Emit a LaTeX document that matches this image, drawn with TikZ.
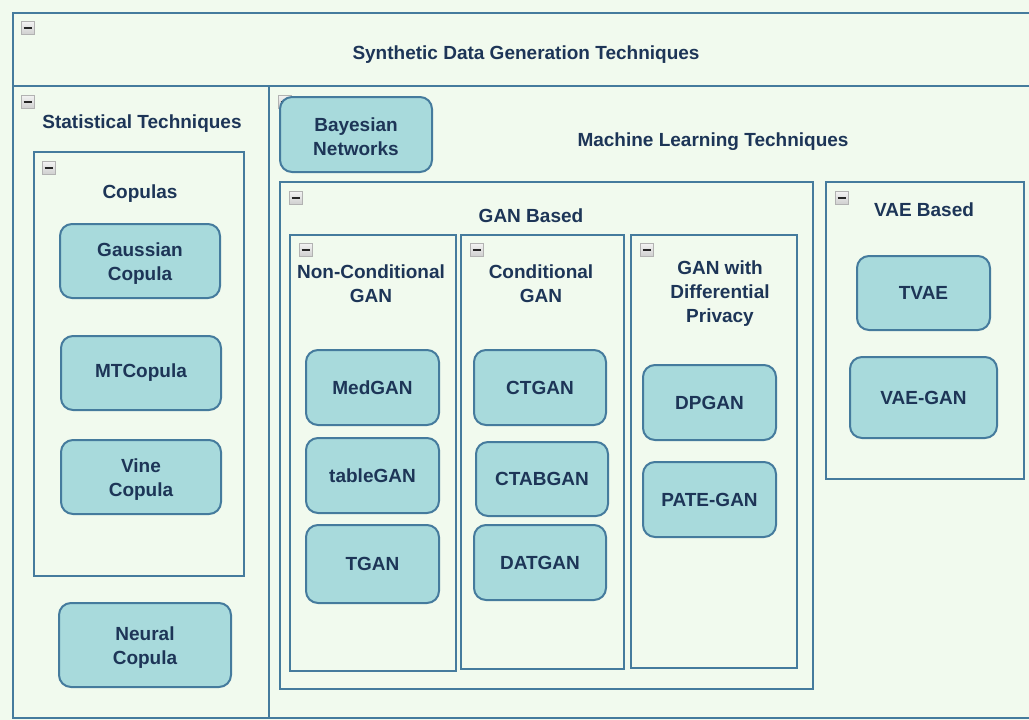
\documentclass[tikz,border=0pt]{standalone}
\usepackage{fontspec}
\setmainfont{Liberation Sans}
\usetikzlibrary{fit}
\definecolor{bgc}{HTML}{F1FAEE}
\definecolor{strokec}{HTML}{457B9D}
\definecolor{fillc}{HTML}{A8DADC}
\definecolor{fontc}{HTML}{1D3557}
\tikzset{
  every node/.style={font=\fontsize{19}{24}\selectfont\bfseries, text=fontc, align=center},
  container/.style={draw=strokec, line width=2pt, fill=bgc, inner sep=0pt},
  item/.style={draw=strokec, line width=2pt, fill=fillc, rounded corners=12pt, inner sep=0pt},
  title/.style={inner sep=0pt},
  icon/.style={minimum size=13pt, inner sep=0pt, draw=gray!60, line width=1pt,
    top color=gray!10, bottom color=gray!38,
    path picture={\draw[line width=2pt, black!85]
      ([xshift=-4.3pt]path picture bounding box.center) -- ([xshift=4.3pt]path picture bounding box.center);}}
}
% single-line item
\newcommand{\itembox}[6]{%
  \node[item, fit={(#2,#3)(#4,#5)}] (#1) {};
  \node[title] (#1-t) at (#1.center) {#6};
}
% two-line item
\newcommand{\itemboxtwo}[6]{%
  \node[item, fit={(#2,#3)(#4,#5)}] (#1) {};
  \node[title] (#1-t) at ([yshift=-2.5pt]#1.center) {#6};
}
\begin{document}
\begin{tikzpicture}[x=1pt, y=-1pt]
\fill[bgc] (0,0) rectangle (1029,720);
\useasboundingbox (0,0) rectangle (1029,720);
% outer containers
\node[container, fit={(13,13)(1040,86)}] (header) {};
\node[container, fit={(13,86)(269,718)}] (stat) {};
\node[container, fit={(269,86)(1040,718)}] (ml) {};
\node[icon] (iheader) at (28,28) {};
\node[icon] (istat) at (28,102) {};
\node[icon] (iml) at (285,102) {};
\node[title] (theader) at (526,54.5) {Synthetic Data Generation Techniques};
\node[title] (tstat) at (142,123.5) {Statistical Techniques};
\node[title] (tml) at (713,141.5) {Machine Learning Techniques};
% copulas
\node[container, fit={(34,152)(244,576)}] (copulas) {};
\node[icon] (icop) at (49,168) {};
\node[title] (tcop) at (140,193.5) {Copulas};
\itemboxtwo{gauss}{60}{224}{220}{298}{Gaussian\\Copula}
\itembox{mtc}{61}{336}{221}{410}{MTCopula}
\itemboxtwo{vine}{61}{440}{221}{514}{Vine\\Copula}
\itemboxtwo{neural}{59}{603}{231}{687}{Neural\\Copula}
% bayesian
\itemboxtwo{bayes}{280}{97}{432}{172}{Bayesian\\Networks}
% GAN based
\node[container, fit={(280,182)(813,689)}] (gan) {};
\node[icon] (igan) at (296,198) {};
\node[title] (tgan) at (531,216) {GAN Based};
\node[container, fit={(290,235)(456,671)}] (noncond) {};
\node[icon] (inon) at (306,250) {};
\node[title] (tnon) at (371,284) {Non-Conditional\\GAN};
\node[container, fit={(461,235)(624,669)}] (cond) {};
\node[icon] (icond) at (477,250) {};
\node[title] (tcond) at (541,284) {Conditional\\GAN};
\node[container, fit={(631,235)(797,668)}] (dp) {};
\node[icon] (idp) at (647,250) {};
\node[title] (tdp) at (720,294) {GAN with\\Differential\\Privacy};
\itembox{medgan}{306}{350}{439}{425}{MedGAN}
\itembox{tablegan}{306}{438}{439}{513}{tableGAN}
\itembox{tgan2}{306}{525}{439}{603}{TGAN}
\itembox{ctgan}{474}{350}{606}{425}{CTGAN}
\itembox{ctabgan}{476}{442}{608}{516}{CTABGAN}
\itembox{datgan}{474}{525}{606}{600}{DATGAN}
\itembox{dpgan}{643}{365}{776}{440}{DPGAN}
\itembox{pategan}{643}{462}{776}{537}{PATE-GAN}
% VAE based
\node[container, fit={(826,182)(1024,479)}] (vae) {};
\node[icon] (ivae) at (842,198) {};
\node[title] (tvae) at (924,210) {VAE Based};
\itembox{tvaen}{857}{256}{990}{330}{TVAE}
\itembox{vaegan}{850}{357}{997}{438}{VAE-GAN}
\end{tikzpicture}
\end{document}
